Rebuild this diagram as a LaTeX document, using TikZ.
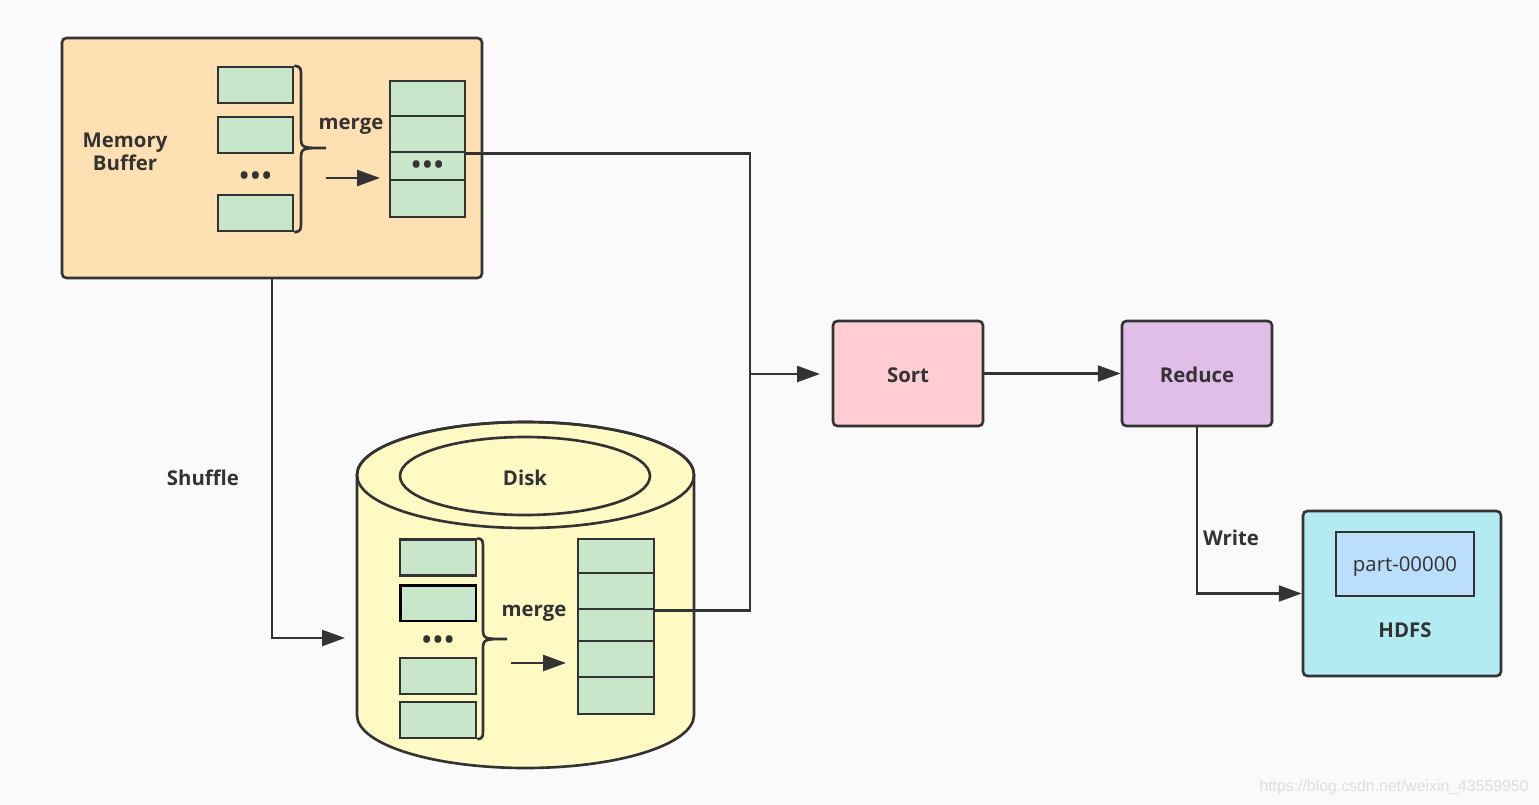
\documentclass[tikz,border=0pt]{standalone}
\usepackage{fontspec}
\setmainfont{Open Sans}
\newfontfamily\wmfont{Liberation Sans}
\usepackage{tikz}
\usetikzlibrary{arrows.meta}

\definecolor{linec}{HTML}{333333}
\definecolor{bgc}{HTML}{FAFAFA}
\definecolor{memc}{HTML}{FFE0B2}
\definecolor{cellc}{HTML}{C8E6C9}
\definecolor{diskc}{HTML}{FFF9C4}
\definecolor{sortc}{HTML}{FFCDD2}
\definecolor{reducec}{HTML}{E1BEE7}
\definecolor{hdfsc}{HTML}{B2EBF2}
\definecolor{partc}{HTML}{BBDEFB}

\begin{document}
\begin{tikzpicture}[x=0.02cm, y=-0.02cm, line width=1.5pt, draw=linec,
    >={Triangle[length=13pt, width=9pt]}]
    \tikzset{box/.style={draw=linec, rounded corners=2.5pt, inner sep=0pt}}
    \tikzset{cell/.style={draw=linec, fill=cellc, inner sep=0pt,
      minimum width=1.52cm, minimum height=0.72cm}}
    \tikzset{thickcell/.style={draw=black, line width=1.7pt}}
    \tikzset{lbl/.style={font=\bfseries\fontsize{11.6}{13}\selectfont,
      text=linec, align=center, inner sep=0pt}}
    \tikzset{dots/.style={font=\bfseries\fontsize{14}{14}\selectfont,
      text=linec, inner sep=0pt}}

    % Background
    \fill [bgc] (0,0) rectangle (1539,805);
    \useasboundingbox (0,0) rectangle (1539,805);

    % Memory buffer
    \node [box, fill=memc, minimum width=8.4cm, minimum height=4.8cm]
          (mem) at (272,158) {};
    \node [lbl] (memlbl) at (125,152) {Memory\\Buffer};

    \foreach \y [count=\i] in {85, 135, 213} {
      \node [cell, minimum width=1.5cm] (mc\i) at (255.5,\y) {};
    }
    \node [dots] (mcdots) at (255.5,178) {•\kern1.2pt•\kern1.2pt•};

    \draw (mc1.north east) .. controls (301,67) .. (301,79) -- (301,136)
          .. controls (301,148) .. (326,148)
          .. controls (301,148) .. (301,160) -- (301,219)
          .. controls (301,231) .. (mc3.south east);
    \node [lbl] (mmerge) at (351,126) {merge};

    \foreach \y/\h [count=\i] in {98.5/0.7, 134/0.72, 166/0.56, 198.5/0.74} {
      \node [cell, minimum width=1.5cm, minimum height=\h cm]
            (ms\i) at (427.5,\y) {};
    }
    \node [dots] (msdots) at (427.5,167) {•\kern1.2pt•\kern1.2pt•};

    % Disk
    \filldraw [fill=diskc] (357,475) -- (357,715)
          arc [start angle=180, end angle=0, x radius=168.5, y radius=53]
          -- (694,475)
          arc [start angle=0, end angle=-180, x radius=168.5, y radius=53]
          -- cycle;
    \draw (525.5,475) ellipse [x radius=168.5, y radius=53];
    \draw (525,476) ellipse [x radius=125, y radius=39];
    \node [lbl] (disklbl) at (525,478) {Disk};

    \foreach \y/\s [count=\i] in {557.5/{}, 603/thickcell, 676/{}, 720/{}} {
      \node [cell, \s] (dc\i) at (438,\y) {};
    }
    \node [dots] (dcdots) at (438,642) {•\kern1.2pt•\kern1.2pt•};

    \draw (dc1.north east) .. controls (483,539.5) .. (483,551) -- (483,627)
          .. controls (483,639) .. (507,639)
          .. controls (483,639) .. (483,651) -- (483,726)
          .. controls (483,738) .. (dc4.south east);
    \node [lbl] (dmerge) at (534,613) {merge};

    \foreach \y/\h [count=\i] in {556/0.68, 591/0.72, 625/0.64, 659/0.72, 695.5/0.74} {
      \node [cell, minimum height=\h cm] (ds\i) at (616,\y) {};
    }

    % Sort, Reduce, HDFS
    \node [box, fill=sortc, minimum width=3cm, minimum height=2.1cm]
          (sort) at (908,373.5) {};
    \node [lbl] (sortlbl) at (908,375) {Sort};
    \node [box, fill=reducec, minimum width=3cm, minimum height=2.1cm]
          (reduce) at (1197,373.5) {};
    \node [lbl] (reducelbl) at (1197,375) {Reduce};

    \node [box, fill=hdfsc, minimum width=3.96cm, minimum height=3.3cm]
          (hdfs) at (1402,593.5) {};
    \node [draw=linec, fill=partc, inner sep=0pt, minimum width=2.76cm,
           minimum height=1.28cm] (part) at (1405,564) {};
    \node [text=linec, inner sep=0pt, font=\fontsize{11.6}{13}\selectfont]
          (partlbl) at (1405,567) {part-00000};
    \node [lbl] (hdfslbl) at (1405,630) {HDFS};

    % Anchors for the connectors
    \path (326,178) coordinate (ma0);
    \path (380,178) coordinate (ma1);
    \path (511,663) coordinate (da0);
    \path (566,663) coordinate (da1);
    \path (750,374) coordinate (jmid);
    \path (820,374) coordinate (sortin);
    \path (345,638) coordinate (diskin);

    % Labels
    \node [lbl] (shuffle) at (203,478) {Shuffle};
    \node [lbl] (write) at (1231,538) {Write};
    \node [text=black!13, inner sep=0pt, font=\wmfont\fontsize{9}{10}\selectfont]
          (wm) at (1394,787) {https://blog.csdn.net/weixin\_43559950};

    % Edges
    \draw [->] (ma0) -- (ma1);
    \draw [->] (da0) -- (da1);
    \draw (ms2.south east) -- (ms2.south east -| jmid)
          -- (ds2.south east -| jmid) -- (ds2.south east);
    \draw [->] (jmid) -- (sortin);
    \draw [->] (sort) -- (reduce);
    \draw [->] (mem.south) |- (diskin);
    \draw [->] (reduce.south) |- (hdfs.west);
\end{tikzpicture}
\end{document}
